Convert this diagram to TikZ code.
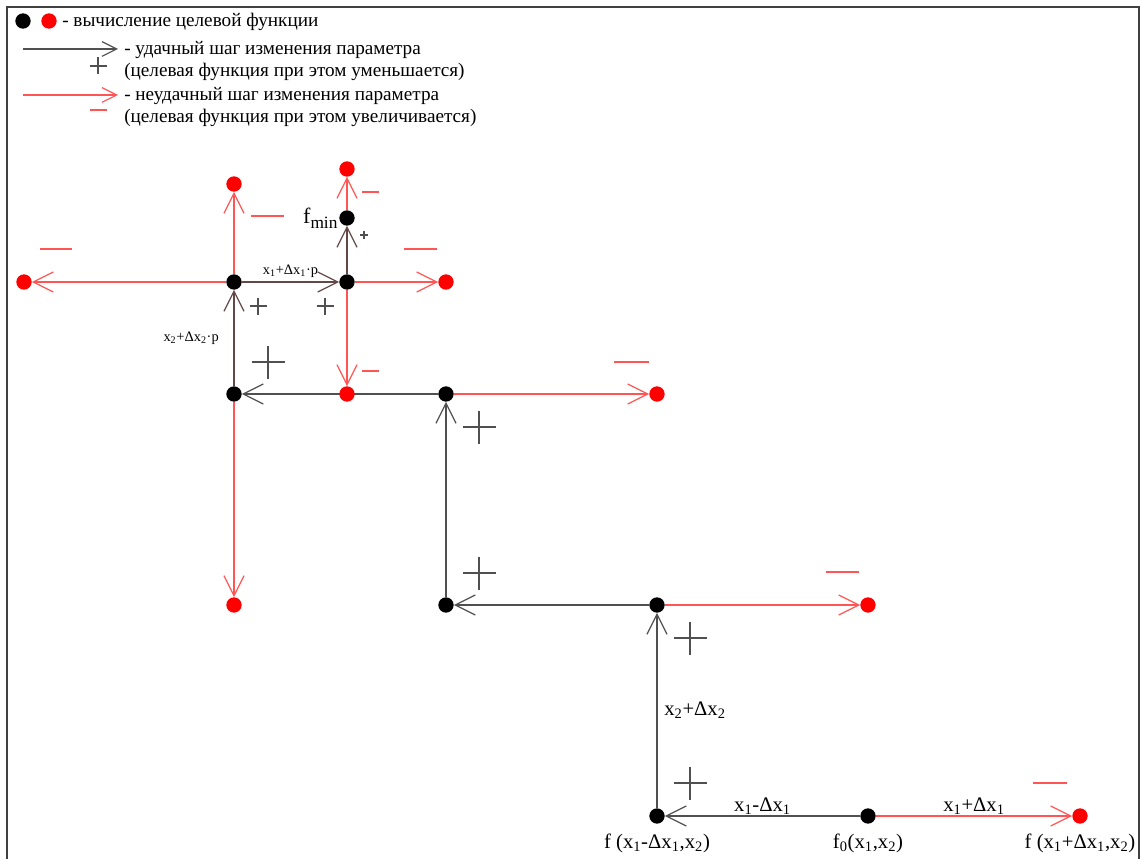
\documentclass[tikz,border=0pt]{standalone}
\usepackage{fontspec}
\setmainfont{Liberation Serif}
\usetikzlibrary{positioning,arrows.meta,backgrounds}

\definecolor{okline}{RGB}{80,80,80}
\definecolor{okpath}{RGB}{100,72,72}
\definecolor{badline}{RGB}{255,85,85}
\definecolor{framegray}{RGB}{64,64,64}

\begin{document}
\begin{tikzpicture}[
    x=0.75pt, y=-0.75pt,
    dot/.style={circle, fill=black, inner sep=0pt, minimum size=11.5pt},
    reddot/.style={dot, fill=red},
    good/.style={-{Straight Barb[length=15pt,width=15pt]}, draw=okline, line width=0.9pt},
    goodp/.style={good, draw=okpath},
    bad/.style={good, draw=badline},
    lbl/.style={font=\fontsize{15.5}{18}\selectfont, inner sep=1pt},
    smalllbl/.style={font=\fontsize{10.8}{13}\selectfont, inner sep=1pt},
    legendtxt/.style={font=\fontsize{14.4}{16.5}\selectfont, align=left, inner sep=0pt, anchor=west},
    plussign/.style={draw=okline, line width=0.9pt},
    minussign/.style={draw=badline, line width=0.9pt}
]
\useasboundingbox (0,0) rectangle (1141,859);
\draw[framegray, line width=1.5pt] (7,859) -- (7,7) -- (1139,7) -- (1139,859);

% legend
\node[dot] (lgblack) at (23,21) {};
\node[reddot] (lgred) at (49,21) {};
\node[legendtxt] (lgcalc) at (62,22) {- вычисление целевой функции};
\coordinate (lgokA) at (23,49);
\coordinate (lgokB) at (118,49);
\coordinate (lgbadA) at (23,95);
\coordinate (lgbadB) at (118,95);
\draw[good, -{Straight Barb[length=11pt,width=11pt]}] (lgokA) -- (lgokB);
\draw[bad, -{Straight Barb[length=11pt,width=11pt]}] (lgbadA) -- (lgbadB);
\node[legendtxt, anchor=north west] (lgok) at (124,41) {- удачный шаг изменения параметра\\(целевая функция при этом уменьшается)};
\node[legendtxt, anchor=north west] (lgbad) at (124,87) {- неудачный шаг изменения параметра\\(целевая функция при этом увеличивается)};

% points of the search
\node[dot] (start) at (868,816) {};
\node[dot] (s1) at (657,816) {};
\node[reddot] (s1bad) at (1080,816) {};
\node[dot] (s2) at (657,605) {};
\node[reddot] (s2bad) at (868,605) {};
\node[dot] (s3) at (446,605) {};
\node[dot] (s4) at (446,394) {};
\node[reddot] (s4bad) at (657,394) {};
\node[dot] (s5) at (234,394) {};
\node[reddot] (s5bad) at (234,605) {};
\node[reddot] (p1bad) at (347,394) {};
\node[dot] (p1) at (234,282) {};
\node[reddot] (p1left) at (24,282) {};
\node[reddot] (p1up) at (234,184) {};
\node[dot] (p2) at (347,282) {};
\node[reddot] (p2right) at (446,282) {};
\node[dot] (fmin) at (347,218) {};
\node[reddot] (fminup) at (347,169) {};

\node[anchor=east, inner sep=1pt] (fminlbl) at (fmin.west) {\fontsize{16.5}{19}\selectfont f\raisebox{-0.45ex}{\fontsize{13}{15}\selectfont min}};
\node[lbl, below=6.5pt of s1] (s1lbl) {f (x\textsubscript{1}-Δx\textsubscript{1},x\textsubscript{2})};
\node[lbl, below=6.5pt of start] (startlbl) {f\textsubscript{0}(x\textsubscript{1},x\textsubscript{2})};
\node[lbl, below=6.5pt of s1bad] (s1badlbl) {f (x\textsubscript{1}+Δx\textsubscript{1},x\textsubscript{2})};

\begin{scope}[on background layer]
\draw[good] (start) -- node[lbl, above] (dxminus) {x\textsubscript{1}-Δx\textsubscript{1}} (s1);
\draw[bad] (start) -- node[lbl, above] (dxplus) {x\textsubscript{1}+Δx\textsubscript{1}} (s1bad);
\draw[good] (s1) -- node[lbl, right=4pt] (dyplus) {x\textsubscript{2}+Δx\textsubscript{2}} (s2);
\draw[good] (s2) -- (s3);
\draw[bad] (s2) -- (s2bad);
\draw[good] (s3) -- (s4);
\draw[bad] (s4) -- (s4bad);
\draw[good] (s4) -- (s5);
\draw[bad] (s5) -- (s5bad);
\draw[goodp] (s5) -- node[smalllbl, left=10pt] (dyp) {x\textsubscript{2}+Δx\textsubscript{2}·p} (p1);
\draw[bad] (p1) -- (p1left);
\draw[bad] (p1) -- (p1up);
\draw[goodp] (p1) -- node[smalllbl, above=2pt] (dxp) {x\textsubscript{1}+Δx\textsubscript{1}·p} (p2);
\draw[bad] (p2) -- (p2right);
\draw[bad] (p2) -- (p1bad);
\draw[goodp] (p2) -- (fmin);
\draw[bad] (fmin) -- (fminup);
\end{scope}

% plus and minus marks
\foreach \x/\y/\h in {98/66/8.5, 258/306/8.5, 325/306/8.5, 364/235/4, 268/362/16.5,
                      479/427/16.5, 479/573/16.5, 690/638/16.5, 690/783/16.5}
  \draw[plussign] (\x-\h,\y) -- (\x+\h,\y) (\x,\y-\h) -- (\x,\y+\h);
\foreach \xa/\xb/\y in {90/107/110, 251/284/216, 40/72/249, 362/379/192, 404/437/249,
                        362/379/371, 614/649/362, 826/859/572, 1033/1067/783}
  \draw[minussign] (\xa,\y) -- (\xb,\y);
\end{tikzpicture}
\end{document}
